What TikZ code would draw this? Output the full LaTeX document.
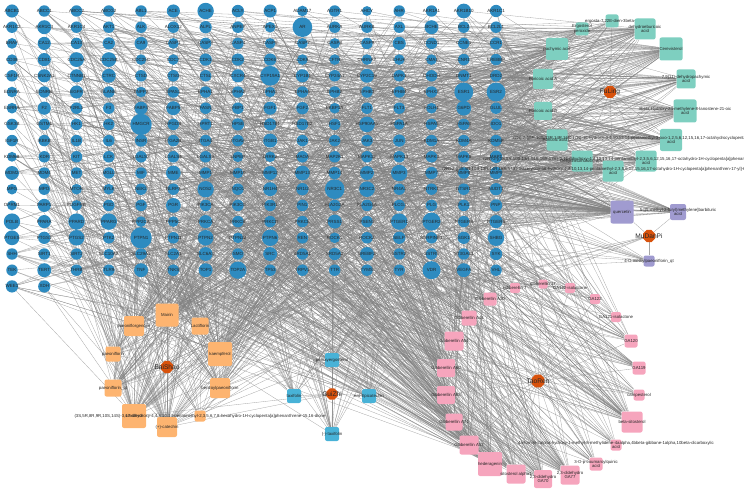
\documentclass[tikz,border=0pt]{standalone}
\usepackage{fontspec}
\setmainfont{Liberation Sans}
\usepackage{tikz}
\usetikzlibrary{shapes.geometric, backgrounds}

\definecolor{genecol}{RGB}{46,139,192}
\definecolor{hubcol}{RGB}{216,82,12}
\definecolor{flcol}{RGB}{126,207,192}
\definecolor{mdpcol}{RGB}{160,155,208}
\definecolor{bscol}{RGB}{253,180,112}
\definecolor{gzcol}{RGB}{72,178,215}
\definecolor{trcol}{RGB}{246,165,189}
\definecolor{linkcol}{RGB}{128,128,128}

\begin{document}
\begin{tikzpicture}[
    x=1pt, y=-1pt,
    target/.style={circle, fill=genecol, inner sep=0pt},
    glab/.style={font=\fontsize{4.5}{5}\selectfont, inner sep=0pt, text=black!85},
    cpd/.style={rectangle, rounded corners=2pt, inner sep=0pt},
    clab/.style={font=\fontsize{4.3}{4.8}\selectfont, inner sep=0pt, align=center, text=black!85},
    hub/.style={regular polygon, regular polygon sides=8, fill=hubcol, minimum size=13pt, inner sep=0pt},
    hlab/.style={font=\fontsize{6.6}{7}\selectfont, inner sep=0pt, text=black!85},
    fl/.style={cpd, fill=flcol},
    mdp/.style={cpd, fill=mdpcol},
    bs/.style={cpd, fill=bscol},
    gz/.style={cpd, fill=gzcol},
    tr/.style={cpd, fill=trcol},
    link/.style={draw=linkcol, line width=0.3pt, opacity=0.7}
]
\useasboundingbox (0,0) rectangle (744,492);

% Targets (16 per row)
\foreach \name/\d [count=\i] in {
  ABCB1/16, ABCC1/14, ABCC2/14, ABCG2/14, ABL1/14, ACE/16, ACHE/20, ACLY/15, ACP1/16, ADAM17/13, AGTR1/14, AHCY/12, AHR/14, AKR1A1/14, AKR1B10/18, AKR1C1/15,
  AKR1C2/14, AKR1C3/17, AKR1C4/14, AKT1/14, ALK/14, ALOX12/14, ALPL/15, ANPEP/14, APEX1/13, AR/24, AURKA/14, AURKB/14, AXL/14, BCHE/17, BCL2/14, BCL2L1/14,
  BRAF/13, CA12/16, CA13/14, CA2/15, CA9/16, CASP1/13, CASP3/14, CASP4/14, CASP6/13, CASP7/13, CASP8/13, CASP9/14, CBS/16, CCND1/14, CCNE1/14, CCR1/15,
  CD38/13, CD81/16, CDC25A/18, CDC25B/18, CDC25C/13, CDC7/13, CDK1/15, CDK2/15, CDK6/15, CDK9/13, CFTR/13, CHRNA7/13, CHUK/13, CMA1/13, CNR1/14, CREBBP/14,
  CSF1R/14, CSNK2A1/16, CTNNB1/16, CTRC/17, CTSD/14, CTSG/14, CTSL/14, CXCR4/16, CYP19A1/24, CYP1B1/16, CYP24A1/14, CYP2C19/17, DAPK1/14, DHODH/14, DNMT1/14, DRD2/14,
  EDNRA/13, EDNRB/14, EGFR/16, ELANE/14, ENPP2/13, EPAS1/14, EPHA1/14, EPHA2/14, EPHA3/13, EPHA4/14, EPHB2/14, EPHB3/14, EPHB4/14, EPHX2/14, ESR1/23, ESR2/23,
  ESRRA/13, F2/16, F2RL1/14, F3/14, FABP4/16, FABP5/17, FASN/14, FBP1/14, FGF1/16, FGF2/15, FKBP1A/13, FLT1/14, FLT3/14, FOLH1/13, G6PD/18, GLUL/14,
  GSK3B/14, GSTM1/14, HK1/14, HK2/14, HMGCR/26, HPGDS/14, HPRT1/14, HPSE/15, HSD17B1/15, HSD17B2/14, HSF1/14, HSP90AA1/19, HSPA1A/13, HSPA5/14, HSPA8/14, IDO1/14,
  IGF1R/14, IKBKB/14, IL1B/14, IL6/14, INSR/15, ITGA2B/14, ITGA4/14, ITGAV/14, ITGB1/17, JAK1/14, JAK2/14, JAK3/14, JUN/15, KDM1A/14, KDM4A/14, KDM5B/14,
  KDM6B/12, KDR/14, KIT/14, LCK/14, LGALS3/14, LGALS4/14, LGALS9/14, LNPEP/13, LRRK2/13, MAOA/14, MAP2K1/14, MAPK12/14, MAPK14/14, MAPK3/14, MAPK8/14, MAPT/15,
  MDM2/17, MDM4/14, MET/14, MGLL/14, MIF/14, MME/18, MMP1/14, MMP10/13, MMP12/17, MMP13/18, MMP14/15, MMP2/17, MMP3/20, MMP7/15, MMP8/14, MMP9/15,
  MPG/13, MPO/14, MTOR/13, MYLK/13, NEK2/14, NLRP3/14, NOS2/20, NQO1/14, NR1H4/17, NR1I2/15, NR3C1/24, NR3C2/19, NR4A1/14, NTRK1/14, NTSR1/14, NUDT1/15,
  OPRM1/12, PARP1/16, PDGFRB/13, PGD/14, PGF/14, PGR/18, PIK3CA/14, PIK3CG/14, PIK3R1/14, PIN1/14, PLA2G2A/14, PLA2G4A/14, PLCG1/14, PLG/14, PLK1/14, PNP/15,
  POLB/20, PPARA/16, PPARD/20, PPARG/20, PPP2CA/13, PPP5C/13, PRKCA/16, PRKCB/14, PRKCD/14, PRKCE/14, PRSS1/17, PSEN1/14, PTGER1/20, PTGER2/22, PTGER3/14, PTGER4/16,
  PTGES/18, PTGS1/15, PTGS2/19, PTK2/14, PTPN1/26, PTPN11/14, PTPN2/19, PTPN22/13, PTPN6/20, REN/14, ROCK1/13, ROCK2/14, SELP/15, SERPINE1/14, SGK1/15, SHBG/20,
  SHH/14, SIRT1/14, SIRT2/14, SLC10A2/13, SLC29A1/14, SLC2A1/14, SLC6A3/17, SMO/14, SRC/17, SRD5A1/14, SRD5A2/15, SREBF2/17, SSTR2/14, SSTR5/14, ST3GAL1/14, SYK/15,
  TEK/14, TERT/17, THRB/14, TLR9/14, TNF/17, TNKS/14, TOP1/17, TOP2A/21, TP53/14, TRPV1/14, TTR/14, TYMS/14, TYR/14, VDR/22, VEGFA/17, VHL/14,
  WEE1/15, XDH/15}{
  \pgfmathtruncatemacro\col{mod(\i-1,16)}
  \pgfmathtruncatemacro\row{div(\i-1,16)}
  \node[target, minimum size=0.82*\d pt, label={[glab]center:\name}] (g\i) at ({12+32.27*\col}, {11+16.2*\row}) {};
}

% FuLing
\node[hub, label={[hlab]center:FuLing}] (fuling) at (610,92) {};
\node[fl, minimum size=13pt, label={[clab]center:{ergosta-7,22E-dien-3beta-ol}}] (ergo) at (612,21) {};
\node[fl, minimum size=13pt, label={[clab]center:{Ergosterol\\peroxide}}] (ergper) at (582,29) {};
\node[fl, minimum size=21pt, label={[clab]center:{dehydroeburicoic\\acid}}] (dehyeb) at (645,29) {};
\node[fl, minimum size=22pt, label={[clab]center:{pachymic acid}}] (pachy) at (557,49) {};
\node[fl, minimum size=23pt, label={[clab]center:{Cerevisterol}}] (cerev) at (671,49) {};
\node[fl, minimum size=20pt, label={[clab]center:{Poricoic acid A}}] (poriA) at (543,79) {};
\node[fl, minimum size=19pt, label={[clab]center:{7,9(11)-dehydropachymic\\acid}}] (dehypa) at (686,79) {};
\node[fl, minimum size=18pt, label={[clab]center:{Poricoic acid B}}] (poriB) at (543,111) {};
\node[fl, minimum size=23pt, label={[clab]center:{3beta-Hydroxy-24-methylene-8-lanostene-21-oic\\acid}}] (lanost) at (685,111) {};
\node[fl, minimum size=21pt, label={[clab]center:{Poricoic acid C}}] (poriC) at (557,140) {};
\node[fl, minimum size=22pt, label={[clab]center:{(2R)-2-[(5R,10S,13R,14R,16R,17R)-16-hydroxy-4,4,10,13,14-pentamethyl-3-oxo-1,2,5,6,12,15,16,17-octahydrocyclopenta[a]phenanthren-17-yl]-6-methylhept-5-enoic\\acid}}] (hexa1) at (671,140) {};
\node[fl, minimum size=21pt, label={[clab]center:{Dehydrotumulosic acid}}] (tumul) at (582,161) {};
\node[fl, minimum size=21pt, label={[clab]center:{(2R)-2-[(3S,5R,10S,13R,14R,16R,17R)-3,16-dihydroxy-4,4,10,13,14-pentamethyl-2,3,5,6,12,15,16,17-octahydro-1H-cyclopenta[a]phenanthren-17-yl]-6-methylhept-5-enoic\\acid}}] (hexa2) at (646,161) {};
\node[fl, minimum size=21pt, label={[clab]center:{(2R)-2-[(3S,5R,10S,13R,14R,16R,17R)-3-acetyloxy-16-hydroxy-4,4,10,13,14-pentamethyl-2,3,5,6,12,15,16,17-octahydro-1H-cyclopenta[a]phenanthren-17-yl]-6-methylhept-5-enoic\\acid}}] (hexa3) at (613,171) {};

% MuDanPi
\node[hub, label={[hlab]center:MuDanPi}] (mudanpi) at (649,236) {};
\node[mdp, minimum size=23pt, label={[clab]center:{quercetin}}] (quer) at (622,212) {};
\node[mdp, minimum size=16pt, label={[clab]center:{5-[(5-methyl-2-furyl)methylene]barbituric\\acid}}] (barb) at (678,212) {};
\node[mdp, minimum size=11pt, label={[clab]center:{4-O-methylpaeoniflorin\_qt}}] (mpaeo) at (649,261) {};

% BaiShao
\node[hub, label={[hlab]center:BaiShao}] (baishao) at (167,367) {};
\node[bs, minimum size=23pt, label={[clab]center:{Mairin}}] (mairin) at (167,315) {};
\node[bs, minimum size=20pt, label={[clab]center:{paeoniflorgenone}}] (paeog) at (134,326) {};
\node[bs, minimum size=17pt, label={[clab]center:{Lactiflorin}}] (lacti) at (200,326) {};
\node[bs, minimum size=15pt, label={[clab]center:{paeoniflorin}}] (paeon) at (113,354) {};
\node[bs, minimum size=24pt, label={[clab]center:{kaempferol}}] (kaemp) at (220,354) {};
\node[bs, minimum size=17pt, label={[clab]center:{paeoniflorin\_qt}}] (paeoqt) at (113,388) {};
\node[bs, minimum size=20pt, label={[clab]center:{benzoylpaeoniflorin}}] (benzo) at (220,388) {};
\node[bs, minimum size=24pt, label={[clab]center:{sitosterol}}] (sitos) at (134,416) {};
\node[bs, minimum size=11pt, label={[clab]center:{(3S,5R,8R,9R,10S,14S)-3,17-dihydroxy-4,4,8,10,14-pentamethyl-2,3,5,6,7,8-hexahydro-1H-cyclopenta[a]phenanthrene-15,16-dione}}] (dione) at (200,416) {};
\node[bs, minimum size=20pt, label={[clab]center:{(+)-catechin}}] (catech) at (167,427) {};

% GuiZhi
\node[hub, minimum size=12pt, label={[hlab]center:GuiZhi}] (guizhi) at (332,394) {};
\node[gz, minimum size=14pt, label={[clab]center:{peroxyergosterol}}] (perox) at (332,360) {};
\node[gz, minimum size=14pt, label={[clab]center:{taxifolin}}] (taxi) at (294,396) {};
\node[gz, minimum size=14pt, label={[clab]center:{ent-Epicatechin}}] (entepi) at (369,396) {};
\node[gz, minimum size=14pt, label={[clab]center:{(-)-taxifolin}}] (mtaxi) at (332,434) {};

% TaoRen
\node[hub, minimum size=14pt, label={[hlab]center:TaoRen}] (taoren) at (538,381) {};
\node[tr, minimum size=10pt, label={[clab]center:{gibberellin 7}}] (gib7) at (515,288) {};
\node[tr, minimum size=9pt, label={[clab]center:{gibberellin 17}}] (gib17) at (543,284) {};
\node[tr, minimum size=10pt, label={[clab]center:{GA122-isolactone}}] (ga122iso) at (570,288) {};
\node[tr, minimum size=13pt, label={[clab]center:{Gibberellin A30}}] (gibA30) at (490,299) {};
\node[tr, minimum size=10pt, label={[clab]center:{GA122}}] (ga122) at (595,299) {};
\node[tr, minimum size=10pt, label={[clab]center:{GA121-isolactone}}] (ga121iso) at (616,317) {};
\node[tr, minimum size=15pt, label={[clab]center:{Gibberellin A44}}] (gibA44) at (469,318) {};
\node[tr, minimum size=19pt, label={[clab]center:{Gibberellin A54}}] (gibA54) at (454,341) {};
\node[tr, minimum size=13pt, label={[clab]center:{GA120}}] (ga120) at (631,341) {};
\node[tr, minimum size=18pt, label={[clab]center:{Gibberellin A60}}] (gibA60) at (446,368) {};
\node[tr, minimum size=13pt, label={[clab]center:{GA119}}] (ga119) at (639,368) {};
\node[tr, minimum size=18pt, label={[clab]center:{Gibberellin A63}}] (gibA63) at (446,395) {};
\node[tr, minimum size=11pt, label={[clab]center:{campesterol}}] (campe) at (639,395) {};
\node[tr, minimum size=17pt, label={[clab]center:{Gibberellin A71}}] (gibA71) at (454,422) {};
\node[tr, minimum size=21pt, label={[clab]center:{beta-sitosterol}}] (bsitos) at (632,422) {};
\node[tr, minimum size=19pt, label={[clab]center:{Gibberellin A17}}] (gibA17) at (469,445) {};
\node[tr, minimum size=11pt, label={[clab]center:{4a-formyl-7alpha-hydroxy-1-methyl-8-methylidene-4aalpha,4bbeta-gibbane-1alpha,10beta-dicarboxylic\\acid}}] (formyl) at (616,445) {};
\node[tr, minimum size=24pt, label={[clab]center:{hederagenin}}] (heder) at (490,464) {};
\node[tr, minimum size=13pt, label={[clab]center:{3-O-p-coumaroylquinic\\acid}}] (coumar) at (596,464) {};
\node[tr, minimum size=19pt, label={[clab]center:{sitosterol alpha1}}] (sitalpha) at (516,474) {};
\node[tr, minimum size=18pt, label={[clab]center:{2,3-didehydro\\GA70}}] (ga70) at (543,479) {};
\node[tr, minimum size=19pt, label={[clab]center:{2,3-didehydro\\GA77}}] (ga77) at (570,475) {};

% Edges
\begin{scope}[on background layer]
\pgfmathsetseed{2718}
\foreach \cp/\cnt in {ergo/10, ergper/10, dehyeb/35, pachy/38, cerev/35, poriA/32, dehypa/30,
    poriB/26, lanost/35, poriC/36, hexa1/34, tumul/32, hexa2/32, hexa3/32,
    quer/70, barb/25, mpaeo/8,
    mairin/40, paeog/30, lacti/22, paeon/18, kaemp/45, paeoqt/22, benzo/30, sitos/40, dione/8, catech/32,
    perox/14, taxi/16, entepi/16, mtaxi/16,
    gib7/6, gib17/5, ga122iso/6, gibA30/14, ga122/6, ga121iso/6, gibA44/20, gibA54/28, ga120/14,
    gibA60/26, ga119/14, gibA63/26, campe/8, gibA71/24, bsitos/32, gibA17/28, formyl/8,
    heder/40, coumar/12, sitalpha/28, ga70/26, ga77/28}{
  \pgfmathtruncatemacro\nn{1.4*\cnt}
  \foreach \k in {1,...,\nn}{
    \pgfmathrandominteger{\tgt}{1}{274}
    \draw[link] (\cp) -- (g\tgt);
  }
}
\foreach \cp in {ergo, ergper, dehyeb, pachy, cerev, poriA, dehypa, poriB, lanost, poriC, hexa1, tumul, hexa2, hexa3}
  \draw[link] (fuling) -- (\cp);
\foreach \cp in {quer, barb, mpaeo, kaemp, paeon, paeoqt, benzo, catech}
  \draw[link] (mudanpi) -- (\cp);
\foreach \cp in {mairin, paeog, lacti, paeon, kaemp, paeoqt, benzo, sitos, dione, catech}
  \draw[link] (baishao) -- (\cp);
\foreach \cp in {perox, taxi, entepi, mtaxi, catech, sitos}
  \draw[link] (guizhi) -- (\cp);
\foreach \cp in {gib7, gib17, ga122iso, gibA30, ga122, ga121iso, gibA44, gibA54, ga120, gibA60, ga119,
    gibA63, campe, gibA71, bsitos, gibA17, formyl, heder, coumar, sitalpha, ga70, ga77}
  \draw[link] (taoren) -- (\cp);
\end{scope}

\end{tikzpicture}
\end{document}
